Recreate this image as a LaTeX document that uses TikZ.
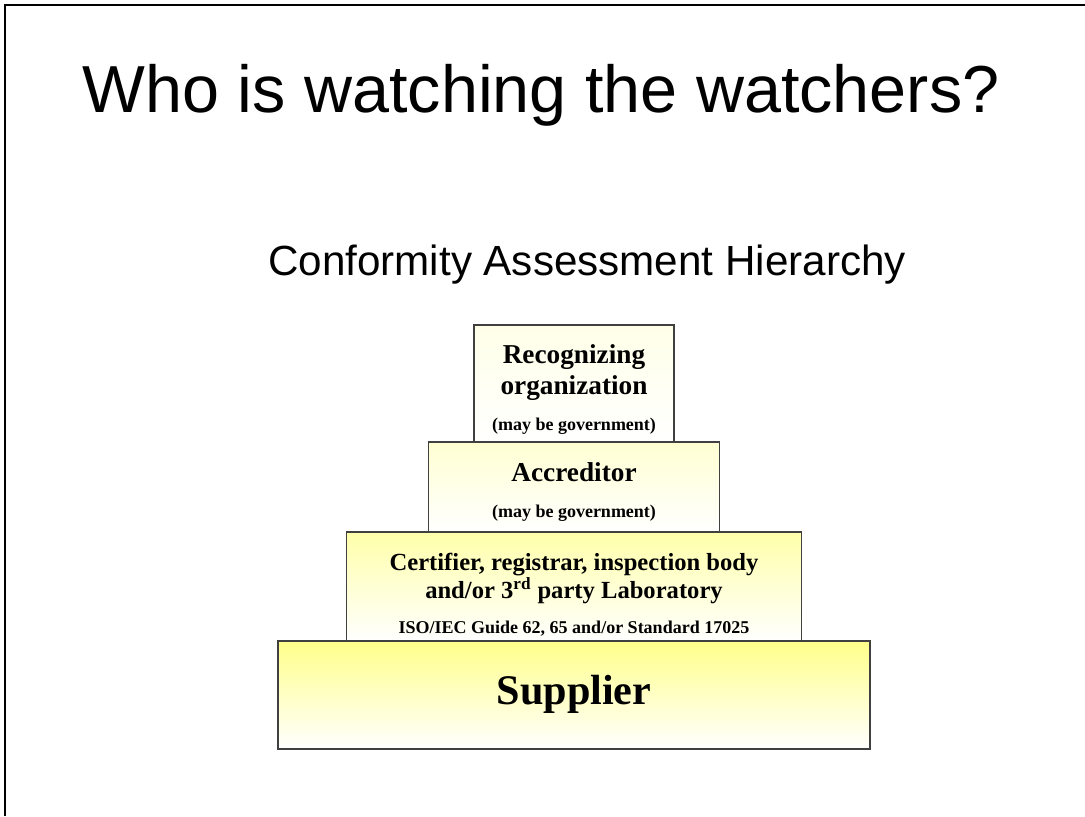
\documentclass[tikz,border=0pt]{standalone}
\usepackage{fontspec}
\setmainfont{Liberation Serif}
\setsansfont{Liberation Sans}
\usetikzlibrary{positioning}
\definecolor{boxline}{HTML}{404040}
\definecolor{tierA}{HTML}{FFFFE8}
\definecolor{tierB}{HTML}{FFFFD2}
\definecolor{tierC}{HTML}{FFFFAA}
\definecolor{tierD}{HTML}{FFFF8A}
% small bracketed remarks; the group keeps the line spacing of the node
\newcommand\tiernote[1]{{\fontsize{12.8}{15}\selectfont #1}}

\begin{document}
\begin{tikzpicture}[
  x=0.025cm, y=-0.025cm,
  tier/.style={rectangle, draw=boxline, line width=1pt, outer sep=0pt, inner sep=0pt, bottom color=white},
  tierlabel/.style={align=center, inner sep=0pt, font=\bfseries\fontsize{19.4}{22}\selectfont},
  heading/.style={anchor=base},
]
\useasboundingbox (0,0) rectangle (1085,816);

% slide frame: top and left edges only
\draw[line width=1.6pt] (5,816) -- (5,5) -- (1085,5);

% titles
\node[heading, font=\sffamily\fontsize{47.3}{50}\selectfont] (title) at (541,112) {Who is watching the watchers?};
\node[heading, font=\sffamily\fontsize{30}{34}\selectfont] (subtitle) at (587,275) {Conformity Assessment Hierarchy};

% pyramid boxes, built bottom up
\node[tier, minimum width=148mm, minimum height=27mm, top color=tierD] (supplier) at (574,695) {};
\node[tier, minimum width=113.75mm, minimum height=27.25mm, top color=tierC, above=0pt of supplier] (certifier) {};
\node[tier, minimum width=72.75mm, minimum height=22.5mm, top color=tierB, above=0pt of certifier] (accreditor) {};
\node[tier, minimum width=50mm, minimum height=29.25mm, top color=tierA, above=0pt of accreditor] (recognizer) {};

% box texts, a little below each box centre
\node[tierlabel, font=\bfseries\fontsize{30}{34}\selectfont, yshift=0.25mm] (supplierText) at (supplier.center) {Supplier};
\node[tierlabel, font=\bfseries\fontsize{17.5}{20}\selectfont, yshift=-2.1mm] (certifierText) at (certifier.center)
  {Certifier, registrar, inspection body\\
   and/or 3\textsuperscript{rd} party Laboratory\\[5pt]
   \tiernote{ISO/IEC Guide 62, 65 and/or Standard 17025}};
\node[tierlabel, yshift=-1.25mm] (accreditorText) at (accreditor.center)
  {Accreditor\\[3pt]
   \tiernote{(may be government)}};
\node[tierlabel, yshift=-1.6mm] (recognizerText) at (recognizer.center)
  {Recognizing\\
   organization\\[3.5pt]
   \tiernote{(may be government)}};
\end{tikzpicture}
\end{document}
